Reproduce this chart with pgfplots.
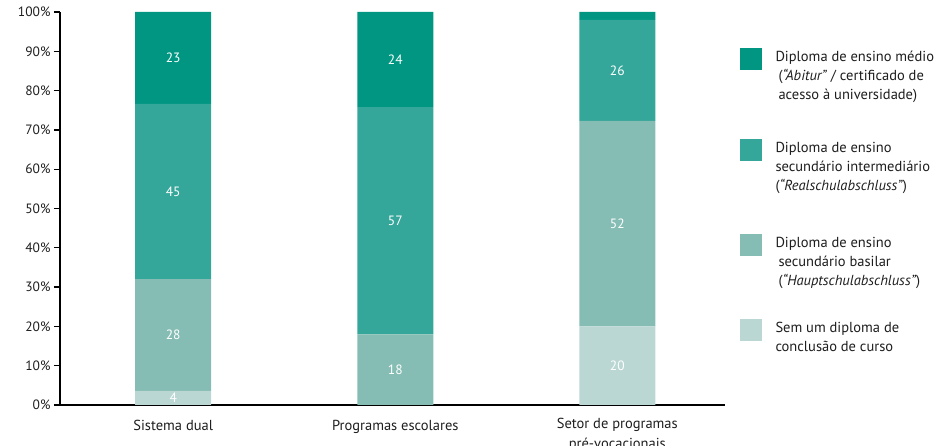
\documentclass[border=0pt]{standalone}
\usepackage{pgfplots}
\pgfplotsset{compat=1.18}
\usepackage{fontspec}
\setmainfont{PT Sans}
\definecolor{c1}{RGB}{0,150,129}
\definecolor{c2}{RGB}{53,166,154}
\definecolor{c3}{RGB}{133,189,180}
\definecolor{c4}{RGB}{186,215,211}
\definecolor{tx}{RGB}{30,30,30}
\newcommand{\legtxt}[1]{\raisebox{0pt}[13pt][0pt]{\begin{tabular}[t]{@{\hspace{12pt}}l@{}}#1\end{tabular}}}
\pgfplotsset{limg/.style={legend image code/.code={\fill[##1] (0pt,-9pt) rectangle (22pt,13pt); \path (0pt,-#1);}}}
\begin{document}
\begin{tikzpicture}
\useasboundingbox (-60pt,-41pt) rectangle (879pt,405pt);
\begin{axis}[
  scale only axis,
  width=665pt, height=393pt,
  ybar stacked,
  bar width=76pt,
  xmin=-0.51, xmax=2.485,
  ymin=0, ymax=100,
  axis x line*=bottom, axis y line*=left,
  axis line style={black, line width=1.3pt},
  xtick=data,
  xticklabels={\rule{0pt}{12pt}Sistema dual, \rule{0pt}{12pt}Programas escolares, {Setor de programas\\pré-vocacionais}},
  xticklabel style={align=center, font=\fontsize{14.5}{20}\selectfont, text=tx, yshift=-4pt},
  x tick style={draw=none},
  ytick={0,10,...,100},
  yticklabel={\pgfmathprintnumber{\tick}\%},
  yticklabel style={font=\fontsize{13.5}{15}\selectfont, text=tx},
  /pgf/number format/assume math mode=true,
  y tick style={black, line width=1.3pt},
  tick align=outside,
  major tick length=6pt,
  every node near coord/.append style={font=\fontsize{13.5}{15}\selectfont, text=white},
  nodes near coords={\pgfplotspointmeta},
  nodes near coords align={center},
  point meta=explicit symbolic,
  legend style={at={(rel axis cs:1.0215,0.9135)}, anchor=north west, draw=none, inner sep=0pt,
    cells={anchor=base west, inner sep=0pt}, row sep=0pt,
    font=\fontsize{14.5}{19}\selectfont, text=tx},
  reverse legend,
]
\addplot[fill=c4, draw=none, limg=9pt] coordinates {(0,3.6)[4] (1,0)[] (2,20)[20]};
\addplot[fill=c3, draw=none, limg=70pt] coordinates {(0,28.4)[28] (1,18)[18] (2,52.3)[52]};
\addplot[fill=c2, draw=none, limg=80pt] coordinates {(0,44.6)[45] (1,57.8)[57] (2,25.7)[26]};
\addplot[fill=c1, draw=none, limg=76pt] coordinates {(0,23.4)[23] (1,24.2)[24] (2,2)[]};
\legend{{\legtxt{Sem um diploma de\\conclusão de curso}},
  {\legtxt{Diploma de ensino\\\hspace{3pt}secundário basilar\\\hspace{3pt}(\textit{“Hauptschulabschluss”})}},
  {\legtxt{Diploma de ensino\\secundário intermediário\\(\textit{“Realschulabschluss”})}},
  {\legtxt{Diploma de ensino médio\\\hspace{3pt}(\textit{“Abitur”} / certificado de\\\hspace{3pt}acesso à universidade)}}}
\end{axis}
\end{tikzpicture}
\end{document}
